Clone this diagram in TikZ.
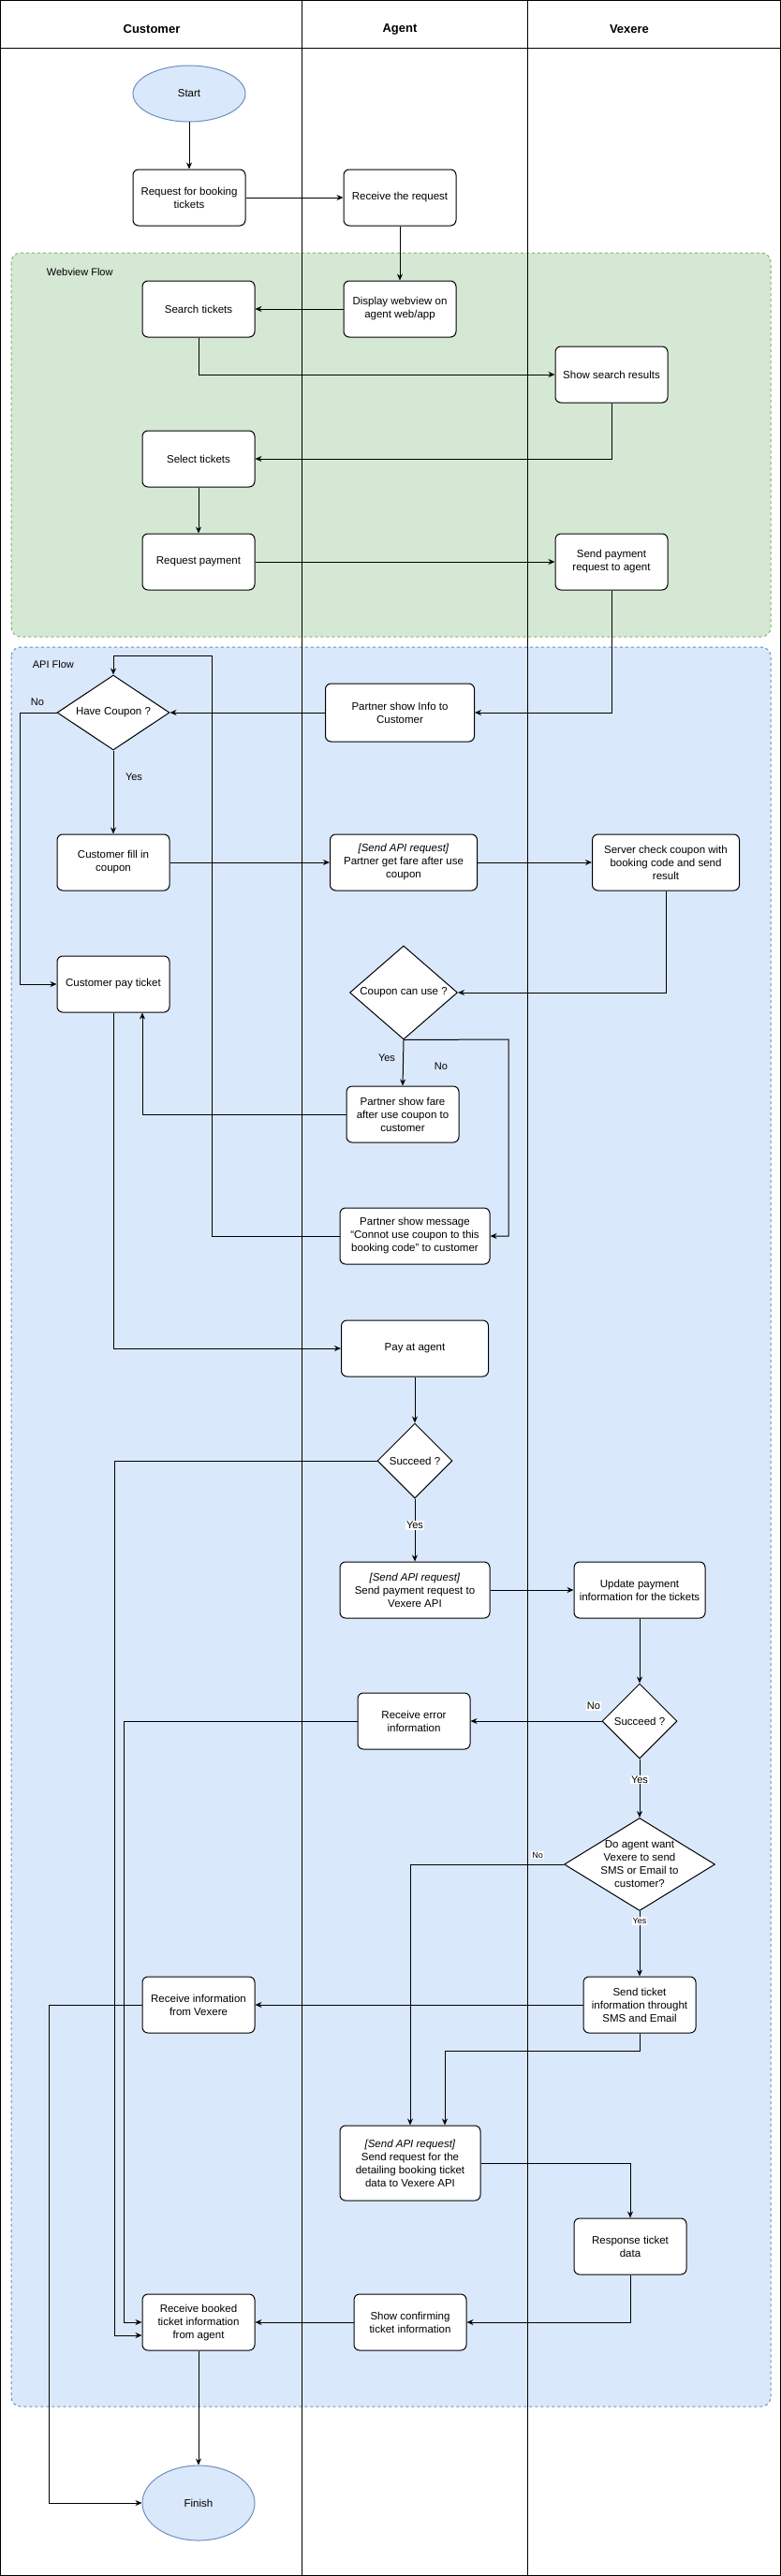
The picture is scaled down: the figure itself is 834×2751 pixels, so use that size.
\documentclass[tikz,border=0pt]{standalone}
\usepackage{fontspec}
\setmainfont{Liberation Sans}
\usetikzlibrary{shapes.geometric,arrows.meta,calc}
\definecolor{gfill}{HTML}{D5E8D4}\definecolor{gline}{HTML}{82B366}
\definecolor{bfill}{HTML}{DAE8FC}\definecolor{bline}{HTML}{6C8EBF}
\begin{document}
\begin{tikzpicture}[x=1pt,y=-1pt,line width=1pt,
  font=\fontsize{11.5}{14}\selectfont,
  box/.style={draw,fill=white,rounded corners=6pt,minimum width=120pt,minimum height=60pt,align=center,inner sep=2pt},
  term/.style={ellipse,draw=bline,fill=bfill,minimum width=120pt,minimum height=#1},
  dia/.style={diamond,draw,fill=white,inner sep=0pt},
  arr/.style={-{Stealth[length=7pt,width=6pt]}},
  lab/.style={font=\fontsize{11}{13}\selectfont},
  wl/.style={lab,fill=white,inner sep=1pt}]
\useasboundingbox (0,0) rectangle (834,2751);
% groups
\draw[gline,dashed,fill=gfill,rounded corners=10pt] (12,270) rectangle (823,680);
\draw[bline,dashed,fill=bfill,rounded corners=10pt] (12,691) rectangle (823,2570);
\node[lab,anchor=west] (wf) at (46,291) {Webview Flow};
\node[lab,anchor=west] (af) at (31,710) {API Flow};
% lanes
\draw (0.5,0.5) rectangle (833.5,2750.5);
\draw (0,52) -- (834,52);
\draw (322,0) -- (322,2751);
\draw (563,0) -- (563,2751);
\node[font=\bfseries\fontsize{13}{15}\selectfont] (h1) at (162,31) {Customer};
\node[font=\bfseries\fontsize{13}{15}\selectfont] (h2) at (427,31) {Agent};
\node[font=\bfseries\fontsize{13}{15}\selectfont] (h3) at (672,31) {Vexere};
% nodes
\node[term=60pt] (start) at (202,100) {Start};
\node[box] (req) at (202,211) {Request for booking\\tickets};
\node[box] (recv) at (427,211) {Receive the request};
\node[box] (disp) at (427,330) {Display webview on\\agent web/app};
\node[box] (search) at (212,330) {Search tickets};
\node[box] (show) at (653,400) {Show search results};
\node[box] (select) at (212,490) {Select tickets};
\node[box] (reqpay) at (212,600) {Request payment};
\node[box] (sendpay) at (653,600) {Send payment\\request to agent};
\node[dia,minimum width=120pt,minimum height=80pt,label=center:{Have Coupon ?}] (have) at (121,761) {};
\node[box,minimum width=159pt,minimum height=62pt] (info) at (427,761) {Partner show Info to\\Customer};
\node[box] (fill) at (121,921) {Customer fill in\\coupon};
\node[box,minimum width=157pt] (fare1) at (431,921) {\textit{[Send API request]}\\Partner get fare after use\\coupon};
\node[box,minimum width=157pt] (server) at (711,921) {Server check coupon with\\booking code and send\\result};
\node[box] (pay) at (121,1051) {Customer pay ticket};
\node[dia,minimum width=115pt,minimum height=100pt,label=center:{Coupon can use ?}] (can) at (431,1060) {};
\node[box] (fare) at (430,1190) {Partner show fare\\after use coupon to\\customer};
\node[box,minimum width=160pt] (msg) at (443,1320) {Partner show message\\``Connot use coupon to this\\booking code'' to customer};
\node[box,minimum width=157pt] (payag) at (443,1440) {Pay at agent};
\node[dia,minimum width=80pt,minimum height=80pt,label=center:{Succeed ?}] (succ1) at (443,1560) {};
\node[box,minimum width=160pt] (api) at (443,1698) {\textit{[Send API request]}\\Send payment request to\\Vexere API};
\node[box,minimum width=140pt] (upd) at (683,1698) {Update payment\\information for the tickets};
\node[dia,minimum width=80pt,minimum height=80pt,label=center:{Succeed ?}] (succ2) at (683,1838) {};
\node[box] (err) at (442,1838) {Receive error\\information};
\node[dia,minimum width=161pt,minimum height=99pt,label=center:{\parbox{90pt}{\centering Do agent want\\Vexere to send\\SMS or Email to\\customer?}}] (want) at (683,1991) {};
\node[box] (sendt) at (683,2141) {Send ticket\\information throught\\SMS and Email};
\node[box] (rinfo) at (212,2141) {Receive information\\from Vexere};
\node[box,minimum width=150pt,minimum height=80pt] (detail) at (438,2310) {\textit{[Send API request]}\\Send request for the\\detailing booking ticket\\data to Vexere API};
\node[box] (resp) at (673,2399) {Response ticket\\data};
\node[box] (conf) at (438,2480) {Show confirming\\ticket information};
\node[box] (booked) at (212,2480) {Receive booked\\ticket information\\from agent};
\node[term=80pt] (finish) at (212,2673) {Finish};
% edges
\draw[arr] (start) -- (req);
\draw[arr] (req) -- (recv);
\draw[arr] (recv) -- (disp);
\draw[arr] (disp) -- (search);
\draw[arr] (search.south) |- (show.west);
\draw[arr] (show.south) |- (select.east);
\draw[arr] (select) -- (reqpay);
\draw[arr] (reqpay) -- (sendpay);
\draw[arr] (sendpay.south) |- (info.east);
\draw[arr] (info) -- (have.east);
\draw[arr] (have.west) -- (21,761) |- (pay.west);
\node[lab] (no1) at (40,750) {No};
\draw[arr] (have.south) -- (fill.north);
\node[lab] (yes1) at (143,830) {Yes};
\draw[arr] (fill) -- (fare1);
\draw[arr] (fare1) -- (server);
\draw[arr] (server.south) |- (can.east);
\draw[arr] (can.south) -- (fare.north);
\node[lab] (yes2) at (413,1130) {Yes};
\draw[arr] (can.south) -- (543,1110) |- (msg.east);
\node[lab] (no2) at (471,1139) {No};
\draw[arr] (fare.west) -| ($(pay.south)+(31,0)$);
\draw[arr] (msg.west) -| (226,700) -| (have.north);
\draw[arr] (pay.south) |- (payag.west);
\draw[arr] (payag) -- (succ1);
\draw[arr] (succ1.west) -| (122,2494) -- ($(booked.west)+(0,14)$);
\draw[arr] (succ1) -- (api) node[wl,pos=0.42] (yes3) {Yes};
\draw[arr] (api) -- (upd);
\draw[arr] (upd) -- (succ2);
\draw[arr] (succ2) -- (err);
\node[wl] (no3) at (634,1822) {No};
\draw[arr] (err.west) -| (132,2480) -- (booked.west);
\draw[arr] (succ2) -- (want) node[wl,pos=0.35] (yes4) {Yes};
\draw[arr] (want.west) -| (detail.north);
\node[wl,font=\fontsize{9}{11}\selectfont] (no4) at (574,1981) {No};
\draw[arr] (want) -- (sendt) node[wl,font=\fontsize{9}{11}\selectfont,pos=0.15] (yes5) {Yes};
\draw[arr] (sendt) -- (rinfo);
\draw[arr] (sendt.south) -- (683,2190) -| ($(detail.north)+(37,0)$);
\draw[arr] (detail.east) -| (resp.north);
\draw[arr] (resp.south) |- (conf.east);
\draw[arr] (conf) -- (booked);
\draw[arr] (booked) -- (finish);
\draw[arr] (rinfo.west) -| (52,2673) -- (finish.west);
\end{tikzpicture}
\end{document}
